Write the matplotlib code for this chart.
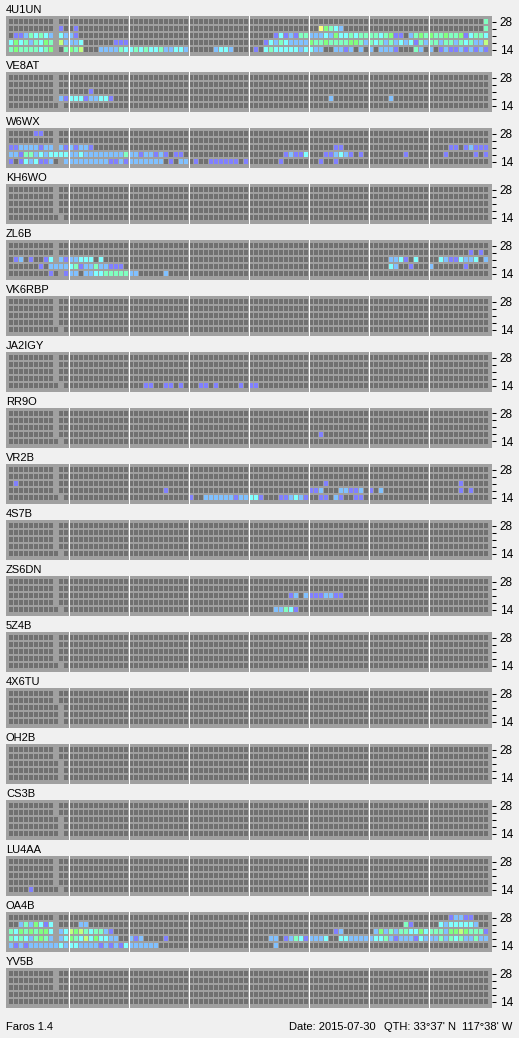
"""
Faros beacon monitor grid: 18 NCDXF beacons x 5 bands x 96 quarter-hour slots.
"""

import matplotlib
matplotlib.use("Agg")
import matplotlib.pyplot as plt
from matplotlib.collections import PatchCollection
from matplotlib.patches import Rectangle

plt.rcParams['font.family'] = ['Liberation Sans', 'DejaVu Sans']

W, H = 519, 1038
N_SLOTS = 96
FS = 8

stations = ["4U1UN", "VE8AT", "W6WX", "KH6WO", "ZL6B", "VK6RBP",
            "JA2IGY", "RR9O", "VR2B", "4S7B", "ZS6DN", "5Z4B",
            "4X6TU", "OH2B", "CS3B", "LU4AA", "OA4B", "YV5B"]
band_labels = ["28", "", "", "", "14"]

# signal level -> colour ('.' = nothing heard)
level_colors = {'1': '#8080ff', '2': '#80c0ff', '3': '#80ffff',
                '4': '#80ffc0', '5': '#80ff80', '6': '#c0ff80',
                '7': '#ffff80'}

# runs of heard slots: (band row, first slot, levels)
runs_4u1un = [
    (0, 95, "4"),
    (1, 10, "1..1"), (1, 62, "75432"), (1, 95, "4"),
    (2, 1, "11243432.3221"),
    (2, 53, "1312144" "222325334344" "4434511.2454" "544544513443"),
    (3, 0, "353424354.62223"), (3, 21, "111"),
    (3, 51, "132432222" "544544445542" "434242323142" "442442434226"),
    (4, 0, "454444345..4546"), (4, 18, "222243343433422332"),
    (4, 41, "2332"),
    (4, 49, "1.343333323" "322..2212.2." "2.2221...42." "2.1211212121"),
]
runs_ve8at = [(2, 16, "1"), (3, 10, "21333122331"), (3, 64, "2"),
              (3, 76, "2")]
runs_w6wx = [
    (0, 5, "11"),
    (2, 0, "112222122.2121221"), (2, 65, "11"), (2, 88, "11.12111"),
    (3, 0, "221442323333" "223222222224" "22122121.11"),
    (3, 55, "12113...112321.1"), (3, 79, "1"), (3, 87, "1"),
    (3, 93, "1.1"),
    (4, 0, "1.1323112"),
    (4, 11, "2222222221121" "2222222.1.22" ".1..111111.1"),
    (4, 54, "1"), (4, 62, "1"), (4, 65, "1"),
]
runs_zl6b = [
    (1, 92, "1.1"),
    (2, 1, "12.1..13"), (2, 10, "2122333.3"), (2, 76, "2231.3"),
    (2, 86, "32113223.2"),
    (3, 6, "1.222234122422111"), (3, 76, "32..1"), (3, 84, "2"),
    (3, 91, "1"),
    (4, 8, "1..122.22334444422"), (4, 31, "2"),
]
runs_ja2igy = [(4, 27, "11..11.1...11.1....1.11")]
runs_rr9o = [(3, 62, "1")]
runs_vr2b = [
    (2, 1, "1"), (2, 63, "1"), (2, 90, "1"),
    (3, 31, "1"), (3, 60, "112...22112.1.2"), (3, 90, "1.1"),
    (4, 36, "1..222222122331...112321..11.21..11"),
]
runs_zs6dn = [(2, 56, "12.21112211"), (4, 53, "22431")]
runs_lu4aa = [(4, 4, "1")]
runs_oa4b = [
    (0, 88, "12211"),
    (1, 2, "2425313"), (1, 14, "22"), (1, 79, "41"), (1, 86, "32333332"),
    (2, 0, "435454553.23656434421"), (2, 65, "12"),
    (2, 73, "25242443353444255654441"),
    (3, 0, "434324542.235436353322"), (3, 24, "212....1"),
    (3, 52, "22.12431" "2223..332222" "233421222132" "224243422422"),
    (4, 0, "212122222232332222121213222222"), (4, 53, "2"),
]

station_runs = [runs_4u1un, runs_ve8at, runs_w6wx, [], runs_zl6b, [],
                runs_ja2igy, runs_rr9o, runs_vr2b, [], runs_zs6dn, [],
                [], [], [], runs_lu4aa, runs_oa4b, []]

# slot with no monitoring, per band row (-1 = none)
gap_slots = [
    [9, 9, 9, 9, 9], [9, 9, 9, 9, 10], [9, 9, 9, 9, 10], [9, 9, 9, 9, 10],
    [9, 9, 9, 9, 10], [9, 9, 9, 9, 10], [9, 9, 9, 9, 10], [9, 9, 9, 9, 10],
    [9, 9, 9, 9, 10], [9, 9, 9, 9, 10], [9, 9, 9, 9, 10], [9, 9, 9, 9, 10],
    [9, 9, 10, 10, 10], [9, 9, 10, 10, 10], [9, 9, 10, 10, 10],
    [9, 9, 9, 9, 10], [9, 9, 9, 9, -1], [9, 9, 9, -1, -1],
]

footer_date = "Date: 2015-07-30"
footer_lat = "QTH: 33°37' N"
footer_lon = "117°38' W"

BG = '#f0f0f0'
PANEL = '#a0a0a0'
CELL = '#707070'


def draw_panel(fig, k, name, runs, gaps):
    top = 16 + 56 * k
    ax = fig.add_axes([6 / W, 1 - (top + 40) / H, 486 / W, 40 / H])
    ax.set_facecolor(PANEL)
    ax.set_xlim(-0.6, N_SLOTS + 0.6)
    ax.set_ylim(37 / 7, -3 / 7)
    for s in ax.spines.values():
        s.set_visible(False)

    grid = [['.'] * N_SLOTS for _ in band_labels]
    for row, first, levels in runs:
        for i, ch in enumerate(levels):
            if ch != '.':
                grid[row][first + i] = ch

    rects, colors = [], []
    for r in range(len(band_labels)):
        for c in range(N_SLOTS):
            ch = grid[r][c]
            if ch != '.':
                col = level_colors[ch]
            elif gaps[r] == c:
                col = PANEL
            else:
                col = CELL
            rects.append(Rectangle((c, r), 0.8, 5 / 7))
            colors.append(col)
    ax.add_collection(PatchCollection(rects, facecolors=colors,
                                      edgecolors='none'))

    # 3-hour separators
    for hour in range(3, 24, 3):
        ax.axvline(hour * 4 - 0.1, color='white', lw=0.75)

    ax.set_xticks([])
    ax.yaxis.tick_right()
    ax.set_yticks([r + 5 / 14 for r in range(len(band_labels))])
    ax.set_yticklabels(band_labels)
    ax.tick_params(axis='y', length=3, width=0.75, pad=2.5,
                   labelsize=FS + 0.5, colors='black')

    fig.text(6 / W, 1 - (top - 3) / H, name, ha='left', va='baseline',
             fontsize=FS)


fig = plt.figure(figsize=(W / 100, H / 100), dpi=100, facecolor=BG)
for k, name in enumerate(stations):
    draw_panel(fig, k, name, station_runs[k], gap_slots[k])

base = 1 - 1030 / H
fig.text(6 / W, base, "Faros 1.4", ha='left', va='baseline', fontsize=FS)
fig.text(376 / W, base, footer_date, ha='right', va='baseline',
         fontsize=FS)
fig.text(456 / W, base, footer_lat, ha='right', va='baseline',
         fontsize=FS)
fig.text(512 / W, base, footer_lon, ha='right', va='baseline',
         fontsize=FS)

fig.savefig("out.png", dpi=100, facecolor=BG)
